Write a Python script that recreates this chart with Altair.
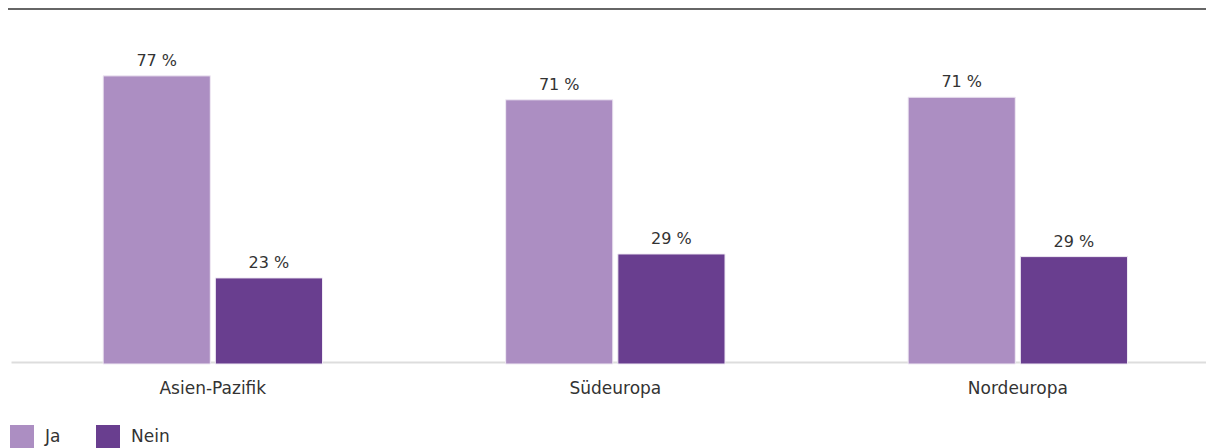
import altair as alt
import pandas as pd

regions = ["Asien-Pazifik", "Südeuropa", "Nordeuropa"]
series = ["Ja", "Nein"]
ja_values = [77.0, 70.6, 71.3]
nein_values = [23.0, 29.4, 28.7]
colors = ["#AC8EC2", "#693E8F"]

rows = []
for r, j, n in zip(regions, ja_values, nein_values):
    rows.append({"region": r, "answer": "Ja", "value": j, "label": f"{round(j)} %"})
    rows.append({"region": r, "answer": "Nein", "value": n, "label": f"{round(n)} %"})
df = pd.DataFrame(rows)

FONT = "DejaVu Sans"
W, H = 1195, 354

x = alt.X("region:N", sort=regions, title=None,
          scale=alt.Scale(paddingInner=0.455, paddingOuter=0.212, align=0.54),
          axis=alt.Axis(labelAngle=0, ticks=False, labelPadding=18, labelFontSize=17,
                        labelColor="#333333", labelFont=FONT, domainColor="#DDDDDD",
                        domainWidth=2, offset=-2))
xoff = alt.XOffset("answer:N", sort=series, scale=alt.Scale(paddingInner=0.045, paddingOuter=0))
y = alt.Y("value:Q", scale=alt.Scale(domain=[0, 94.6], nice=False), axis=None)

bars = alt.Chart(df).mark_bar(stroke="#F0EAF4", strokeWidth=1).encode(
    x=x, xOffset=xoff, y=y,
    color=alt.Color("answer:N", sort=series,
                    scale=alt.Scale(domain=series, range=colors),
                    legend=alt.Legend(title=None, orient="none", direction="horizontal",
                                      legendX=-1, legendY=415, symbolType="square",
                                      symbolSize=576, symbolStrokeWidth=0,
                                      labelFontSize=17, labelColor="#333333",
                                      labelFont=FONT, labelOffset=11,
                                      columnPadding=35)),
)

labels = alt.Chart(df).mark_text(baseline="bottom", dy=-7, fontSize=16,
                                 color="#333333", font=FONT).encode(
    x=x, xOffset=xoff, y=y, text="label:N")

top_rule = alt.Chart(pd.DataFrame({"a": [0]})).mark_rule(color="#666666", strokeWidth=2).encode(
    x=alt.value(-3), x2=alt.value(W), y=alt.value(-1))

chart = alt.layer(bars, labels, top_rule).properties(
    width=W, height=H,
    padding={"left": 3, "top": 2, "right": 0, "bottom": 84},
    autosize=alt.AutoSizeParams(type="none"),
).configure_view(stroke=None)

chart.save("out.html", embed_options={"renderer": "svg", "actions": False})
